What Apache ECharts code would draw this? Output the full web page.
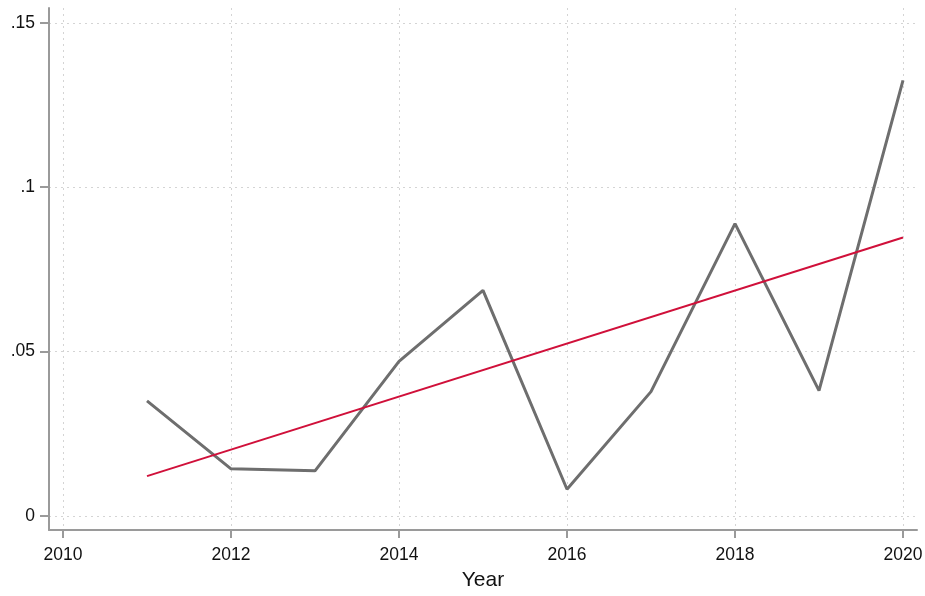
<!DOCTYPE html>
<html>
<head>
<meta charset="utf-8">
<script src="https://cdn.jsdelivr.net/npm/echarts@6/dist/echarts.min.js"></script>
<style>
html,body{margin:0;padding:0;background:#fff;}
#chart{width:925px;height:596px;}
</style>
</head>
<body>
<div id="chart"></div>
<script>
const years = [2011, 2012, 2013, 2014, 2015, 2016, 2017, 2018, 2019, 2020];
const values = [0.0350, 0.0143, 0.0137, 0.0470, 0.0686, 0.0081, 0.0378, 0.0889, 0.0381, 0.1325];
const fitYears = [2011, 2020];
const fitValues = [0.0121, 0.0847];
const xTicks = [2010, 2012, 2014, 2016, 2018, 2020];
const yTicks = [0, 0.05, 0.1, 0.15];
const xTitle = 'Year';

const chart = echarts.init(document.getElementById('chart'));
const fontFamily = '"Liberation Sans", Arial, sans-serif';
const axisGray = '#9a9a9a';
const gridStyle = { color: '#d4d4d4', width: 1, type: [2, 4] };

chart.setOption({
  animation: false,
  grid: { left: 49, right: 8, top: 8, bottom: 66, containLabel: false, outerBoundsMode: 'none' },
  xAxis: {
    type: 'value',
    min: 2010 - 1/6,
    max: 2020 + 1/6,
    name: xTitle,
    nameLocation: 'middle',
    nameGap: 40,
    nameTextStyle: { fontFamily, fontSize: 21, color: '#111' },
    axisLine: { show: true, onZero: false, lineStyle: { color: axisGray, width: 2 } },
    axisTick: { show: true, length: 8, customValues: xTicks, lineStyle: { color: axisGray, width: 2 } },
    axisLabel: { customValues: xTicks, margin: 16, fontFamily, fontSize: 17.5, color: '#111', formatter: v => String(Math.round(v)) },
    splitLine: { show: true, lineStyle: gridStyle }
  },
  yAxis: {
    type: 'value',
    min: -0.0043,
    max: 0.1545,
    axisLine: { show: true, onZero: false, lineStyle: { color: axisGray, width: 2 } },
    axisTick: { show: true, length: 9, customValues: yTicks, lineStyle: { color: axisGray, width: 2 } },
    axisLabel: {
      customValues: yTicks, margin: 14, fontFamily, fontSize: 17.5, color: '#111',
      formatter: v => { if (Math.abs(v) < 1e-9) return '0'; let s = String(parseFloat(v.toFixed(4))); return s.replace(/^0\./, '.'); }
    },
    splitLine: { show: true, lineStyle: gridStyle }
  },
  series: [
    {
      type: 'line',
      data: years.map((y, i) => [y, values[i]]),
      showSymbol: false,
      symbol: 'none',
      lineStyle: { color: '#6e6e6e', width: 3 },
      z: 3
    },
    {
      type: 'line',
      data: fitYears.map((y, i) => [y, fitValues[i]]),
      showSymbol: false,
      symbol: 'none',
      lineStyle: { color: '#d0103a', width: 2 },
      z: 4
    }
  ]
});
</script>
</body>
</html>
